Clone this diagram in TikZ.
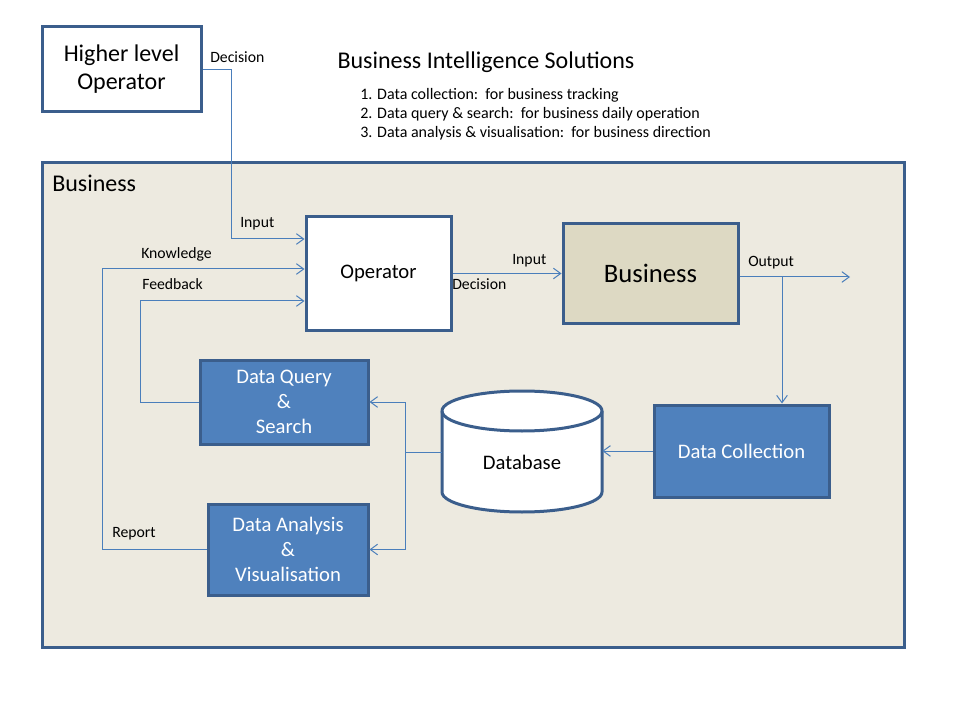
\documentclass[tikz,border=0pt]{standalone}
\usepackage{fontspec}
\setmainfont{Carlito}
\usetikzlibrary{arrows.meta}
\definecolor{frameblue}{HTML}{3B5E8C}
\definecolor{boxblue}{HTML}{4F81BD}
\definecolor{linkblue}{HTML}{4A7EBB}
\definecolor{bizfill}{HTML}{EDEAE0}
\definecolor{bizbox}{HTML}{DDD9C3}
\tikzset{
  box/.style={draw=frameblue, line width=2.25pt, inner sep=0pt, align=center},
  bluebox/.style={box, fill=boxblue, text=white, font=\fontsize{15.5}{18.75}\selectfont},
  dbline/.style={draw=frameblue, line width=2.25pt, fill=white},
  link/.style={draw=linkblue, line width=0.75pt, -{Straight Barb[length=5.5pt,width=8pt]}},
  wire/.style={draw=linkblue, line width=0.75pt},
  lbl/.style={font=\fontsize{11.8}{14}\selectfont, anchor=west, inner sep=0pt},
}
\begin{document}
\begin{tikzpicture}[x=0.75pt,y=-0.75pt]
\useasboundingbox[fill=white] (0,0) rectangle (960,720);
% outer frame
\node[box, fill=bizfill, minimum width=646.5pt, minimum height=363pt] (frame) at (473,405) {};
\node[anchor=west, inner sep=0pt, font=\fontsize{18}{21}\selectfont] (framelbl) at (52,183) {Business};
% title and list
\node[inner sep=0pt, font=\fontsize{18}{21}\selectfont] (title) at (486,62) {Business Intelligence Solutions};
\node[lbl, font=\fontsize{12}{14}\selectfont] (l1) at (360,95) {1. Data collection:\ \ for business tracking};
\node[lbl, font=\fontsize{12}{14}\selectfont] (l2) at (360,114) {2. Data query \& search:\ \ for business daily operation};
\node[lbl, font=\fontsize{12}{14}\selectfont] (l3) at (360,133) {3. Data analysis \& visualisation:\ \ for business direction};
% boxes
\node[box, fill=white, minimum width=119.25pt, minimum height=63.75pt, font=\fontsize{18}{21}\selectfont] (hlo) at (121.5,69.5) {Higher level\\Operator};
\node[box, fill=white, minimum width=108.75pt, minimum height=85.5pt, font=\fontsize{15.5}{18}\selectfont] (op) at (378.5,273.5) {Operator};
\node[box, fill=bizbox, minimum width=131.25pt, minimum height=74.25pt, font=\fontsize{20}{24}\selectfont] (biz) at (650.5,273.5) {Business};
\node[bluebox, minimum width=126pt, minimum height=63pt] (dq) at (284,402) {Data Query\\\&\\Search};
\node[bluebox, minimum width=120pt, minimum height=68.25pt] (da) at (288,549.5) {Data Analysis\\\&\\Visualisation};
\node[bluebox, minimum width=131.25pt, minimum height=69pt] (dc) at (741.5,451) {Data Collection};
% database drum
\node[minimum width=120pt, minimum height=90.75pt, inner sep=0pt] (db) at (522,451.5) {};
\draw[dbline] (442,411) -- (442,492) arc[start angle=180, end angle=360, x radius=60pt, y radius=15pt]
  -- (602,411) arc[start angle=0, end angle=180, x radius=60pt, y radius=15pt] -- cycle;
\draw[dbline, fill=none] (442,411) arc[start angle=180, end angle=360, x radius=60pt, y radius=15pt];
\node[inner sep=0pt, font=\fontsize{15.5}{18}\selectfont] (dblbl) at (522,462) {Database};
% connectors
\draw[link] (hlo.east) -| (231,239) coordinate (inp) -- (inp -| op.west);
\draw[link] (da.west) -| (102,269) coordinate (kn) -- (kn -| op.west);
\draw[link] (dq.west) -| (140,301) coordinate (fb) -- (fb -| op.west);
\draw[link] (op.east) -- (biz.west);
\coordinate (outend) at (850,277);
\draw[link] (biz.east |- outend) -- (outend);
\coordinate (br) at (782,277);
\draw[link] (br) -- (br |- dc.north);
\draw[link] (dc.west) -- (dc.west -| db.east);
\coordinate (sp) at (405,452);
\draw[wire] (sp -| db.west) -- (sp);
\draw[link] (sp) |- (dq.east);
\draw[link] (sp) |- (da.east);
% connector labels
\node[lbl] (declbl) at (210,57) {Decision};
\node[lbl] (inplbl) at (240,224) {Input};
\node[lbl] (knlbl) at (141,254) {Knowledge};
\node[lbl] (fblbl) at (142,284) {Feedback};
\node[lbl] (replbl) at (112,534) {Report};
\node[lbl] (inp2lbl) at (512,261) {Input};
\node[lbl] (dec2lbl) at (452,284) {Decision};
\node[lbl] (outlbl) at (748,263) {Output};
\end{tikzpicture}
\end{document}
